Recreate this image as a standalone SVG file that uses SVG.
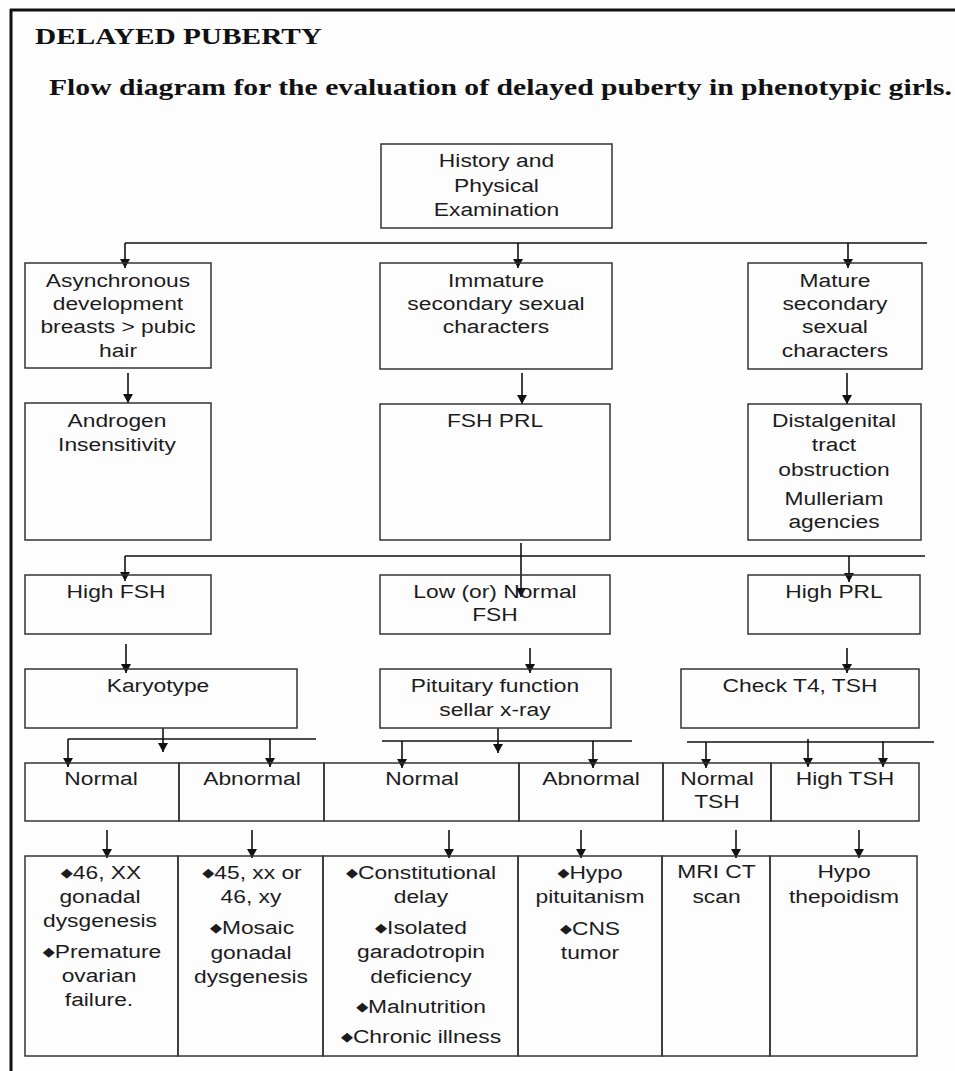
<svg xmlns="http://www.w3.org/2000/svg" width="955" height="1071" viewBox="0 0 955 1071">
<defs>
<marker id="ah" viewBox="0 0 9 10" refX="9" refY="5" markerWidth="9" markerHeight="10" markerUnits="userSpaceOnUse" orient="auto">
<path d="M0,0 L9,5 L0,10 z" fill="#111"/>
</marker>
<style>
.box{fill:none;stroke:#333;stroke-width:1.5}
.cn{fill:none;stroke:#111;stroke-width:1.6}
.ar{fill:none;stroke:#111;stroke-width:1.6;marker-end:url(#ah)}
.t{font-family:"Liberation Sans",Arial,sans-serif;font-size:19px;fill:#1c1c1c;text-anchor:middle;transform-box:fill-box;transform-origin:center;transform:scaleX(1.2)}
.d{font-family:"DejaVu Sans",sans-serif;font-size:13px}
.h{font-family:"Liberation Serif","Times New Roman",serif;font-weight:bold;font-size:22.5px;fill:#111}
</style>
</defs>
<rect width="955" height="1071" fill="#fdfdfe"/>
<g id="frame">
<line x1="11" y1="9" x2="11" y2="1071" stroke="#111" stroke-width="3"/>
<line x1="10" y1="10" x2="955" y2="10" stroke="#111" stroke-width="3"/>
</g>
<g id="titles">
<text class="h" x="35" y="44" textLength="287" lengthAdjust="spacingAndGlyphs">DELAYED PUBERTY</text>
<text class="h" x="49" y="95" textLength="903" lengthAdjust="spacingAndGlyphs">Flow diagram for the evaluation of delayed puberty in phenotypic girls.</text>
</g>
<g id="connectors">
<line class="cn" x1="125" y1="243" x2="927" y2="243"/>
<line class="ar" x1="125" y1="243" x2="125" y2="268"/>
<line class="ar" x1="518" y1="243" x2="518" y2="268"/>
<line class="ar" x1="848" y1="243" x2="848" y2="268"/>
<line class="ar" x1="128" y1="373" x2="128" y2="403"/>
<line class="ar" x1="522" y1="373" x2="522" y2="404"/>
<line class="ar" x1="847" y1="373" x2="847" y2="404"/>
<line class="cn" x1="125" y1="556" x2="925" y2="556"/>
<line class="ar" x1="521" y1="543" x2="521" y2="597"/>
<line class="ar" x1="125" y1="556" x2="125" y2="581"/>
<line class="ar" x1="849" y1="556" x2="849" y2="582"/>
<line class="ar" x1="126" y1="644" x2="126" y2="673"/>
<line class="ar" x1="530" y1="648" x2="530" y2="673"/>
<line class="ar" x1="847" y1="648" x2="847" y2="673"/>
<line class="cn" x1="68" y1="739" x2="316" y2="739"/>
<line class="ar" x1="163" y1="728" x2="163" y2="752"/>
<line class="ar" x1="68" y1="739" x2="68" y2="767"/>
<line class="ar" x1="270" y1="739" x2="270" y2="767"/>
<line class="cn" x1="382" y1="741" x2="632" y2="741"/>
<line class="ar" x1="498" y1="728" x2="498" y2="753"/>
<line class="ar" x1="402" y1="741" x2="402" y2="768"/>
<line class="ar" x1="593" y1="741" x2="593" y2="768"/>
<line class="cn" x1="687" y1="742" x2="934" y2="742"/>
<line class="ar" x1="706" y1="742" x2="706" y2="768"/>
<line class="ar" x1="808" y1="739" x2="808" y2="767"/>
<line class="ar" x1="883" y1="741" x2="883" y2="767"/>
<line class="ar" x1="107" y1="830" x2="107" y2="858"/>
<line class="ar" x1="252" y1="830" x2="252" y2="858"/>
<line class="ar" x1="449" y1="830" x2="449" y2="858"/>
<line class="ar" x1="581" y1="830" x2="581" y2="858"/>
<line class="ar" x1="736" y1="830" x2="736" y2="858"/>
<line class="ar" x1="859" y1="830" x2="859" y2="858"/>
</g>
<g id="n_history">
<rect class="box" x="381" y="144" width="231" height="84"/>
<text class="t" x="496.5" y="167">History and</text>
<text class="t" x="496.5" y="192">Physical</text>
<text class="t" x="496.5" y="216">Examination</text>
</g>
<g id="n_async">
<rect class="box" x="25" y="263" width="186" height="105"/>
<text class="t" x="118" y="287">Asynchronous</text>
<text class="t" x="118" y="310">development</text>
<text class="t" x="118" y="333">breasts &gt; pubic</text>
<text class="t" x="118" y="357">hair</text>
</g>
<g id="n_immature">
<rect class="box" x="380" y="263" width="232" height="106"/>
<text class="t" x="496" y="287">Immature</text>
<text class="t" x="496" y="310">secondary sexual</text>
<text class="t" x="496" y="333">characters</text>
</g>
<g id="n_mature">
<rect class="box" x="748" y="263" width="174" height="106"/>
<text class="t" x="835" y="287">Mature</text>
<text class="t" x="835" y="310">secondary</text>
<text class="t" x="835" y="333">sexual</text>
<text class="t" x="835" y="357">characters</text>
</g>
<g id="n_androgen">
<rect class="box" x="25" y="403" width="186" height="137"/>
<text class="t" x="117" y="427">Androgen</text>
<text class="t" x="117" y="451">Insensitivity</text>
</g>
<g id="n_fshprl">
<rect class="box" x="380" y="404" width="230" height="136"/>
<text class="t" x="495" y="427">FSH PRL</text>
</g>
<g id="n_distal">
<rect class="box" x="748" y="404" width="173" height="136"/>
<text class="t" x="834" y="427">Distalgenital</text>
<text class="t" x="834" y="451.5">tract</text>
<text class="t" x="834" y="476">obstruction</text>
<text class="t" x="834" y="505">Mulleriam</text>
<text class="t" x="834" y="528.5">agencies</text>
</g>
<g id="n_highfsh">
<rect class="box" x="25" y="575" width="186" height="59"/>
<text class="t" x="116" y="598">High FSH</text>
</g>
<g id="n_lownormal">
<rect class="box" x="380" y="575" width="230" height="59"/>
<text class="t" x="495" y="598">Low (or) Normal</text>
<text class="t" x="495" y="621.5">FSH</text>
</g>
<g id="n_highprl">
<rect class="box" x="748" y="575" width="172" height="59"/>
<text class="t" x="834" y="598">High PRL</text>
</g>
<g id="n_karyotype">
<rect class="box" x="25" y="669" width="272" height="59"/>
<text class="t" x="158" y="692">Karyotype</text>
</g>
<g id="n_pituitary">
<rect class="box" x="380" y="669" width="231" height="59"/>
<text class="t" x="495" y="692">Pituitary function</text>
<text class="t" x="495" y="716">sellar x-ray</text>
</g>
<g id="n_check">
<rect class="box" x="681" y="669" width="238" height="59"/>
<text class="t" x="800" y="692">Check T4, TSH</text>
</g>
<g id="n_r5_normal1">
<rect class="box" x="25" y="763" width="154" height="58"/>
<text class="t" x="101" y="785">Normal</text>
</g>
<g id="n_r5_abnormal1">
<rect class="box" x="179" y="763" width="145" height="58"/>
<text class="t" x="252" y="785">Abnormal</text>
</g>
<g id="n_r5_normal2">
<rect class="box" x="324" y="763" width="195" height="58"/>
<text class="t" x="422" y="785">Normal</text>
</g>
<g id="n_r5_abnormal2">
<rect class="box" x="519" y="763" width="144" height="58"/>
<text class="t" x="591" y="785">Abnormal</text>
</g>
<g id="n_r5_normaltsh">
<rect class="box" x="663" y="763" width="108" height="58"/>
<text class="t" x="717" y="785">Normal</text>
<text class="t" x="717" y="808">TSH</text>
</g>
<g id="n_r5_hightsh">
<rect class="box" x="771" y="763" width="148" height="58"/>
<text class="t" x="845" y="785">High TSH</text>
</g>
<g id="n_r6_gonadal">
<rect class="box" x="25" y="856" width="153" height="200"/>
<text class="t" x="101" y="879"><tspan class="d" dy="-2">◆</tspan><tspan dy="2">46, XX</tspan></text>
<text class="t" x="100" y="903">gonadal</text>
<text class="t" x="100" y="927">dysgenesis</text>
<text class="t" x="102" y="958"><tspan class="d" dy="-2">◆</tspan><tspan dy="2">Premature</tspan></text>
<text class="t" x="99" y="982">ovarian</text>
<text class="t" x="99" y="1006">failure.</text>
</g>
<g id="n_r6_mosaic">
<rect class="box" x="178" y="856" width="145" height="200"/>
<text class="t" x="252" y="879"><tspan class="d" dy="-2">◆</tspan><tspan dy="2">45, xx or</tspan></text>
<text class="t" x="251" y="903">46, xy</text>
<text class="t" x="252" y="934"><tspan class="d" dy="-2">◆</tspan><tspan dy="2">Mosaic</tspan></text>
<text class="t" x="251" y="959">gonadal</text>
<text class="t" x="251" y="983">dysgenesis</text>
</g>
<g id="n_r6_constitutional">
<rect class="box" x="323" y="856" width="195" height="200"/>
<text class="t" x="421" y="879"><tspan class="d" dy="-2">◆</tspan><tspan dy="2">Constitutional</tspan></text>
<text class="t" x="421" y="903">delay</text>
<text class="t" x="421" y="934"><tspan class="d" dy="-2">◆</tspan><tspan dy="2">Isolated</tspan></text>
<text class="t" x="421" y="958">garadotropin</text>
<text class="t" x="421" y="983">deficiency</text>
<text class="t" x="421" y="1013"><tspan class="d" dy="-2">◆</tspan><tspan dy="2">Malnutrition</tspan></text>
<text class="t" x="421" y="1043"><tspan class="d" dy="-2">◆</tspan><tspan dy="2">Chronic illness</tspan></text>
</g>
<g id="n_r6_hypopit">
<rect class="box" x="518" y="856" width="144" height="200"/>
<text class="t" x="590" y="879"><tspan class="d" dy="-2">◆</tspan><tspan dy="2">Hypo</tspan></text>
<text class="t" x="590" y="903">pituitanism</text>
<text class="t" x="590" y="935"><tspan class="d" dy="-2">◆</tspan><tspan dy="2">CNS</tspan></text>
<text class="t" x="590" y="959">tumor</text>
</g>
<g id="n_r6_mri">
<rect class="box" x="662" y="856" width="108" height="200"/>
<text class="t" x="716.5" y="878">MRI CT</text>
<text class="t" x="716.5" y="903">scan</text>
</g>
<g id="n_r6_hypothyroid">
<rect class="box" x="770" y="856" width="147" height="200"/>
<text class="t" x="844" y="878">Hypo</text>
<text class="t" x="844" y="903">thepoidism</text>
</g>
</svg>
